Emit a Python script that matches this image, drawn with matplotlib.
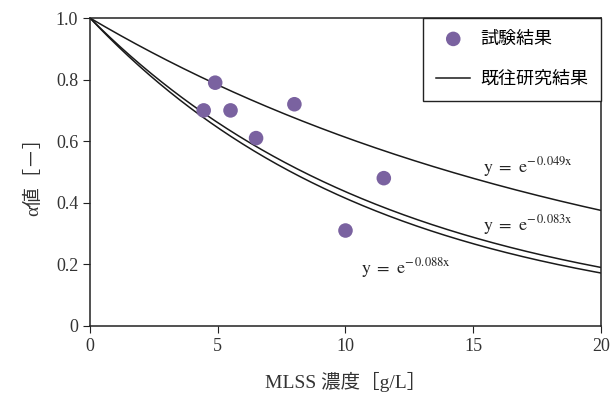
import matplotlib.pyplot as plt
import numpy as np

plt.rcParams['font.family'] = ['Liberation Serif', 'Noto Sans CJK JP']
plt.rcParams['mathtext.fontset'] = 'stix'

# measured points (試験結果)
mlss = [4.45, 4.9, 5.5, 6.5, 8.0, 10.0, 11.5]
alpha = [0.70, 0.79, 0.70, 0.61, 0.72, 0.31, 0.48]

# coefficients of the previous-study curves y = exp(-k x)
coefs = [0.049, 0.083, 0.088]
label_x = [15.4, 15.4, 10.6]
label_y = [0.50, 0.31, 0.17]

fig = plt.figure(figsize=(6.11, 3.94), dpi=100)
ax = fig.add_axes([0.1473, 0.1726, 0.8363, 0.7817])

x = np.linspace(0, 20, 400)
for i, k in enumerate(coefs):
    ax.plot(x, np.exp(-k*x), color='#1a1a1a', lw=1.1,
            label='既往研究結果' if i == 0 else None, zorder=2)
    ax.text(label_x[i], label_y[i], r'$\mathrm{y\ =\ e}^{-\,%.3f\mathrm{x}}$' % k,
            fontsize=13, color='#222222')

ax.scatter(mlss, alpha, s=110, color='#7a62a0', label='試験結果', zorder=3,
           edgecolors='none')

ax.set_xlim(0, 20)
ax.set_ylim(0, 1.0)
ax.set_xticks([0, 5, 10, 15, 20])
ax.set_yticks([0, 0.2, 0.4, 0.6, 0.8, 1.0])
ax.set_yticklabels(['0', '0.2', '0.4', '0.6', '0.8', '1.0'])
ax.tick_params(labelsize=13, direction='out', length=5, color='#222222', labelcolor='#333333')
for s in ax.spines.values():
    s.set_color('#222222')
    s.set_linewidth(1.1)

ax.set_xlabel('MLSS 濃度［g/L］', fontsize=14, color='#333333', labelpad=12)
ax.set_ylabel('α値［－］', fontsize=14, color='#333333', labelpad=10)

h, l = ax.get_legend_handles_labels()
leg = ax.legend(h[::-1], l[::-1], loc='upper right', bbox_to_anchor=(1.0, 1.0),
                fancybox=False, edgecolor='#222222', framealpha=1, fontsize=13,
                borderaxespad=0, handlelength=1.9, labelspacing=1.3,
                borderpad=0.7, handletextpad=0.55)
leg.get_frame().set_linewidth(1.0)

plt.savefig('out.png', dpi=100)
